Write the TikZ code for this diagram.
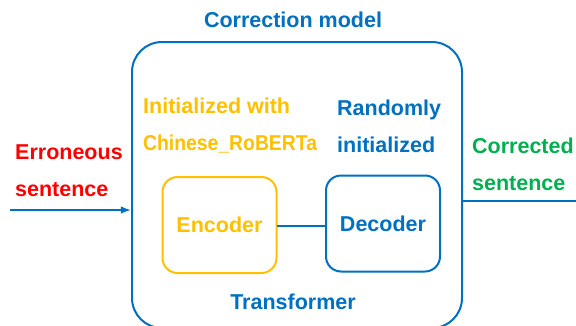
\documentclass[tikz,border=0pt]{standalone}
\usepackage{fontspec}
\usepackage{graphicx}
\setmainfont{Liberation Sans}
\usetikzlibrary{arrows.meta,positioning}

\definecolor{tfblue}{HTML}{0070C0}
\definecolor{encgold}{HTML}{FFC000}
\definecolor{errred}{HTML}{FF0000}
\definecolor{okgreen}{HTML}{00B050}

\tikzset{
  lbl/.style={font=\bfseries\fontsize{21.5}{37}\selectfont, inner sep=0pt},
  block/.style={draw, line width=2pt, rounded corners=15pt,
    minimum width=114pt, minimum height=96pt, inner sep=0pt}
}

\begin{document}
\begin{tikzpicture}[x=1pt, y=-1pt, >=Latex, line cap=round, line join=round]
\useasboundingbox (0,0) rectangle (576,325);

% ---------- correction model ----------
\node[draw=tfblue, line width=2pt, rounded corners=30pt,
  minimum width=330pt, minimum height=286pt] (model) at (297,185) {};
\node[lbl, text=tfblue] (title) at (293,20) {Correction model};
\node[lbl, text=tfblue] (trans) at (293,302) {Transformer};

% ---------- encoder / decoder ----------
\node[block, draw=encgold, text=encgold, lbl] (enc) at (219.5,225) {Encoder};
\node[block, draw=tfblue, text=tfblue, lbl] (dec) at (383,223.5) {Decoder};
\draw[tfblue, line width=2pt] (enc.east |- 0,226) -- (dec.west |- 0,226);

% init notes
\node[lbl, text=encgold, anchor=west, align=left] (init) at (143,126)
  {Initialized with\\\scalebox{0.9}[1]{Chinese\_RoBERTa}};
\node[lbl, text=tfblue, anchor=west, align=left] (rand) at (337,126)
  {Randomly\\initialized};

% ---------- input / output ----------
\node[lbl, text=errred, anchor=west, align=left] (src) at (15,171)
  {Erroneous\\sentence};
\node[lbl, text=okgreen, anchor=west, align=left] (tgt) at (472,164)
  {Corrected\\sentence};

\coordinate (in) at (10,210);
\coordinate (out) at (576,201);
\draw[->, tfblue, line width=1.6pt, line cap=butt] (in) -- (in -| model.west);
\draw[tfblue, line width=1.6pt, line cap=butt] (model.east |- out) -- (out);

\end{tikzpicture}
\end{document}
